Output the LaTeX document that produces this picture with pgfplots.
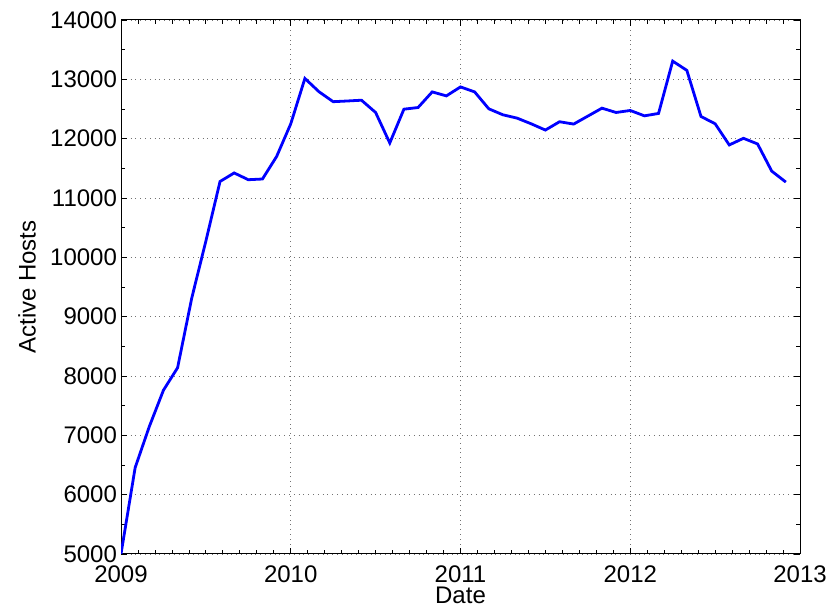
\documentclass[border=0pt]{standalone}
\usepackage{pgfplots}
\pgfplotsset{compat=1.18}
\usepackage{fontspec}
\setmainfont{Liberation Sans}
\begin{document}
\begin{tikzpicture}
\begin{axis}[
    scale only axis,
    width=339.5pt,
    height=267pt,
    xmin=0, xmax=48,
    ymin=5000, ymax=14000,
    xtick={0,12,24,36,48},
    xticklabels={2009,2010,2011,2012,2013},
    ytick={5000,6000,...,14000},
    minor x tick num=9,
    minor y tick num=1,
    tick align=inside,
    major tick length=3pt,
    minor tick length=1.8pt,
    every tick/.style={black, line width=0.4pt},
    scaled y ticks=false,
    yticklabel style={xshift=1.5pt, /pgf/number format/.cd, fixed, 1000 sep={}, assume math mode=true},
    ticklabel style={font=\fontsize{12}{13}\selectfont},
    label style={font=\fontsize{12}{13}\selectfont},
    xticklabel style={anchor=center, yshift=-10pt},
    grid=major,
    grid style={dotted, black!55, line width=0.45pt},
    axis line style={black, line width=0.5pt},
    xlabel={Date},
    ylabel={Active Hosts},
    xlabel style={at={(axis description cs:0.5,-0.078)}, anchor=center, inner sep=0pt},
    ylabel style={at={(axis description cs:-0.1384,0.5)}, anchor=center},
]
\addplot[blue, line width=1.4pt, no marks] coordinates {
(0,5000) (1,6455) (2,7147) (3,7760) (4,8139) (5,9312) (6,10274) (7,11278)
(8,11422) (9,11308) (10,11320) (11,11699)
(12,12250) (13,13015) (14,12790) (15,12623) (16,12635) (17,12648) (18,12441) (19,11927)
(20,12497) (21,12525) (22,12788) (23,12721)
(24,12872) (25,12788) (26,12503) (27,12402) (28,12346) (29,12250) (30,12145) (31,12285)
(32,12246) (33,12380) (34,12514) (35,12441)
(36,12475) (37,12385) (38,12425) (39,13307) (40,13151) (41,12374) (42,12251) (43,11894)
(44,12006) (45,11911) (46,11453) (47,11268)
};
\end{axis}
\pgfresetboundingbox
\path ([shift={(-60.5pt,-27pt)}]current axis.south west) rectangle ([shift={(14pt,10pt)}]current axis.north east);
\end{tikzpicture}
\end{document}
